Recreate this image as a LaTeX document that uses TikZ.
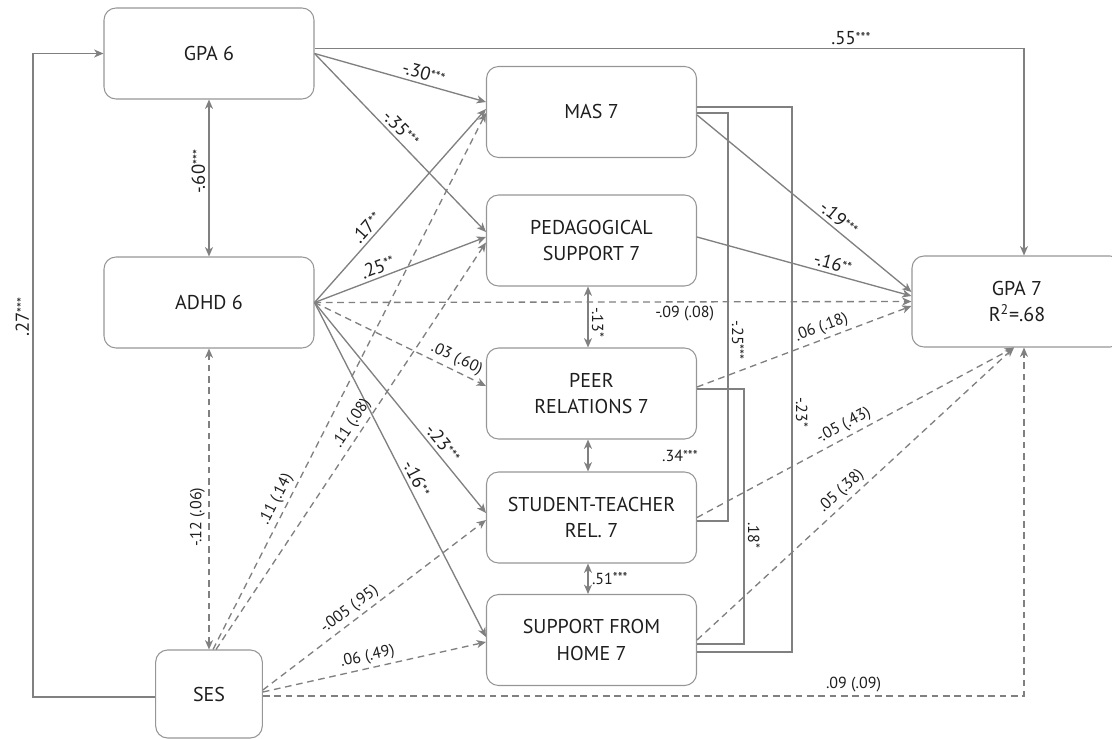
\documentclass[tikz,border=0pt]{standalone}
\usepackage{fontspec}
\setmainfont{PT Sans}
\usepackage{tikz}
\usetikzlibrary{arrows.meta, positioning, calc}

\definecolor{txt}{RGB}{30,30,30}
\definecolor{ln}{RGB}{128,128,128}
\definecolor{bx}{RGB}{150,150,150}
\newcommand{\sig}[1]{\raisebox{0.1em}{\fontsize{10.5}{11}\selectfont #1}}

\tikzset{
  >={Stealth[length=7pt,width=6pt,inset=2pt]},
  box/.style={draw=bx, line width=0.8pt, rounded corners=9pt, minimum width=157.5pt, minimum height=68.25pt,
    align=center, inner sep=2pt, text=txt, font=\fontsize{15}{20}\selectfont},
  arr/.style={draw=ln, line width=1pt, ->},
  biarr/.style={draw=ln, line width=1pt, <->},
  cov/.style={draw=ln, line width=1pt},
  dsh/.style={dash pattern=on 5pt off 3.5pt},
  lab/.style={text=txt, inner sep=2.5pt, font=\fontsize{14}{16}\selectfont},
  slab/.style={text=txt, inner sep=2.5pt, font=\fontsize{12}{14}\selectfont}
}

\begin{document}
\begin{tikzpicture}[x=0.75pt,y=-0.75pt]
\useasboundingbox (0,0) rectangle (1112,738);

\node[box] (gpa6) at (209,53.5) {GPA 6};
\node[box] (adhd6) at (209,302.5) {ADHD 6};
\node[box, minimum width=80pt, minimum height=66pt] (ses) at (209,694) {SES};
\node[box] (mas7) at (591.5,112) {MAS 7};
\node[box] (ped7) at (591.5,240.5) {PEDAGOGICAL\\SUPPORT 7};
\node[box] (peer7) at (591.5,393.5) {PEER\\RELATIONS 7};
\node[box] (st7) at (591.5,517.5) {STUDENT-TEACHER\\REL. 7};
\node[box] (sfh7) at (591.5,640) {SUPPORT FROM\\HOME 7};
\node[box] (gpa7) at (1017,301.5) {GPA 7\\R\textsuperscript{2}=.68};

\draw[arr] ($(gpa6.east)+(0,-5)$) -| node[lab, above, pos=.378] (g55) {.55\sig{***}} ($(gpa7.north)+(7,0)$);
\draw[arr] ($(ses.west)+(0,3)$) -- ++(-122,0) |- node[lab, rotate=90, above, pos=.295] (s27) {.27\sig{***}} (gpa6.west);
\draw[biarr] (adhd6.north) -- node[lab, rotate=90, above, pos=.54] (c60) {-.60\sig{***}} (gpa6.south);
\draw[biarr, dsh] (ses.north) -- node[slab, rotate=90, above, pos=.44] (c12) {-.12 (.06)} (adhd6.south);

\draw[arr] (gpa6.east) -- node[lab, sloped, above, pos=.62] (p30) {-.30\sig{***}} ($(mas7.west)+(0,-10)$);
\draw[arr] (gpa6.east) -- node[lab, sloped, above, pos=.46] (p35) {-.35\sig{***}} ($(ped7.west)+(0,-8.5)$);

\draw[arr] (adhd6.east) -- node[lab, sloped, above, pos=.35] (p17) {.17\sig{**}} ($(mas7.west)+(0,-3)$);
\draw[arr] (adhd6.east) -- node[lab, sloped, above, pos=.39] (p25) {.25\sig{**}} ($(ped7.west)+(0,-3.5)$);
\draw[arr, dsh] (adhd6.east) -- node[slab, below, pos=.62] (p09) {-.09 (.08)} (gpa7.west);
\draw[arr, dsh] (adhd6.east) -- node[slab, sloped, above, pos=.8] (p03) {.03 (.60)} ($(peer7.west)+(0,-7.5)$);
\draw[arr] (adhd6.east) -- node[lab, sloped, above, pos=.7] (p23) {-.23\sig{***}} ($(st7.west)+(0,-4.5)$);
\draw[arr] (adhd6.east) -- node[lab, sloped, above, pos=.54] (p16) {-.16\sig{**}} ($(sfh7.west)+(0,-3)$);

\draw[arr, dsh] ($(ses.north)+(4,0)$) -- node[slab, sloped, above, pos=.27] (s11a) {.11 (.14)} ($(mas7.west)+(0,1)$);
\draw[arr, dsh] ($(ses.north)+(7,0)$) -- node[slab, sloped, above, pos=.54] (s11b) {.11 (.08)} ($(ped7.west)+(0,2)$);
\draw[arr, dsh] ($(ses.east)+(0,-4)$) -- node[slab, sloped, above, pos=.42] (s005) {-.005 (.95)} ($(st7.west)+(0,2.5)$);
\draw[arr, dsh] ($(ses.east)+(0,-2)$) -- node[slab, sloped, above, pos=.48] (s06) {.06 (.49)} ($(sfh7.west)+(0,2)$);
\draw[arr, dsh] ($(ses.east)+(0,2)$) -| node[slab, above, pos=.388] (s09) {.09 (.09)} ($(gpa7.south)+(7,0)$);

\draw[arr] ($(mas7.east)+(0,3)$) -- node[lab, sloped, above, pos=.63] (m19) {-.19\sig{***}} ($(gpa7.west)+(0,-9.5)$);
\draw[arr] ($(ped7.east)+(0,-3.5)$) -- node[lab, sloped, above, pos=.62] (m16) {-.16\sig{**}} ($(gpa7.west)+(0,-5.5)$);
\draw[arr, dsh] ($(peer7.east)+(0,-6.5)$) -- node[slab, sloped, above, pos=.6] (m06) {.06 (.18)} ($(gpa7.west)+(0,4.5)$);
\draw[arr, dsh] (st7.east) -- node[slab, sloped, above, pos=.48] (m05a) {-.05 (.43)} ($(gpa7.south)+(-3,0)$);
\draw[arr, dsh] (sfh7.east) -- node[slab, sloped, above, pos=.48] (m05b) {.05 (.38)} ($(gpa7.south)+(-3,0)$);

\draw[cov] ($(mas7.east)+(0,1)$) -- ++(31,0) |- node[slab, rotate=-90, above, pos=.278] (r25) {-.25\sig{***}} ($(st7.east)+(0,3.5)$);
\draw[cov] ($(mas7.east)+(0,-5)$) -- ++(95,0) |- node[slab, rotate=-90, above, pos=.28] (r23) {-.23\sig{*}} ($(sfh7.east)+(0,12)$);
\draw[cov] ($(peer7.east)+(0,-4.5)$) -- ++(47,0) |- node[slab, rotate=-90, above, pos=.287] (r18) {.18\sig{*}} ($(sfh7.east)+(0,4)$);

\draw[biarr] ($(ped7.south)+(-3.5,0)$) -- node[slab, rotate=-90, above, pos=.59] (r13) {-.13\sig{*}} ($(peer7.north)+(-3.5,0)$);
\draw[biarr] ($(peer7.south)+(-3.5,0)$) -- ($(st7.north)+(-3.5,0)$);
\node[slab] (r34) at (680,456) {.34\sig{***}};
\draw[biarr] ($(st7.south)+(-3.5,0)$) -- node[slab, right, pos=.5] (r51) {.51\sig{***}} ($(sfh7.north)+(-3.5,0)$);
\end{tikzpicture}
\end{document}
